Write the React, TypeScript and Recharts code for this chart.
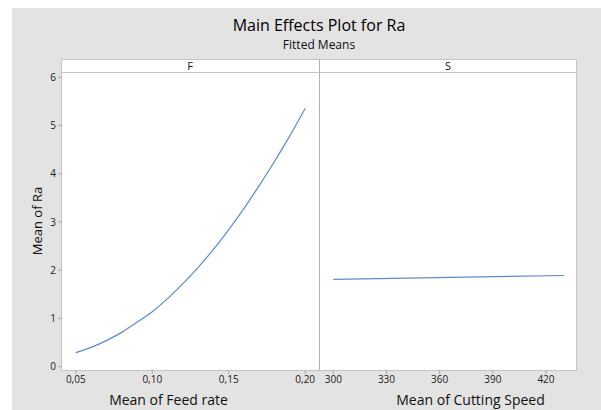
import { LineChart, Line, XAxis, YAxis } from 'recharts'

const feedRate = [0.05, 0.06, 0.07, 0.08, 0.09, 0.1, 0.11, 0.12, 0.13, 0.14, 0.15, 0.16, 0.17, 0.18, 0.19, 0.2]
const raByFeed = [0.29, 0.4, 0.54, 0.71, 0.92, 1.14, 1.41, 1.72, 2.06, 2.43, 2.84, 3.28, 3.76, 4.26, 4.79, 5.36]

const cuttingSpeed = [300, 430]
const raBySpeed = [1.81, 1.89]

const feedTicks = [0.05, 0.1, 0.15, 0.2]
const speedTicks = [300, 330, 360, 390, 420]
const raTicks = [0, 1, 2, 3, 4, 5, 6]

const FONT = '"Open Sans", "Noto Sans", sans-serif'
const LINE = '#5a8ccc'
const BORDER = '#c4c4c4'
const TICK = { fontSize: 10, fill: '#1a1a1a', fontFamily: FONT }

const feedData = feedRate.map((f, i) => ({ f, ra: raByFeed[i] }))
const speedData = cuttingSpeed.map((s, i) => ({ s, ra: raBySpeed[i] }))

const raDomain: [number, number] = [-0.07, 6.11]

function comma(v: number) {
  return v.toFixed(2).replace('.', ',')
}

export default function App() {
  return (
    <div style={{ position: 'absolute', left: 0, top: 0, width: 601, height: 410, background: '#fff', fontFamily: FONT, overflow: 'hidden' }}>
      <div style={{ position: 'absolute', left: 12, top: 8, right: 0, bottom: 0, background: '#e3e3e3' }} />

      {/* titles */}
      <div style={{ position: 'absolute', left: 119, width: 400, top: 16, textAlign: 'center', fontSize: 16, color: '#000', lineHeight: '18px' }}>
        Main Effects Plot for Ra
      </div>
      <div style={{ position: 'absolute', left: 119, width: 400, top: 38, textAlign: 'center', fontSize: 12, color: '#111', lineHeight: '13px' }}>
        Fitted Means
      </div>

      {/* panel frame + strips */}
      <div style={{ position: 'absolute', left: 61, top: 59, width: 516, height: 312, background: '#fff', border: `1px solid ${BORDER}`, boxSizing: 'border-box' }} />
      <div style={{ position: 'absolute', left: 61, top: 72, width: 516, height: 1, background: BORDER }} />
      <div style={{ position: 'absolute', left: 319, top: 59, width: 1, height: 312, background: '#b4b4b4' }} />
      <div style={{ position: 'absolute', left: 61, width: 258, top: 59, height: 13, lineHeight: '13px', textAlign: 'center', fontSize: 11, color: '#111' }}>F</div>
      <div style={{ position: 'absolute', left: 319, width: 258, top: 59, height: 13, lineHeight: '13px', textAlign: 'center', fontSize: 11, color: '#111' }}>S</div>

      <div style={{ position: 'absolute', left: 0, top: 0 }}>
        <LineChart width={320} height={410} data={feedData} margin={{ top: 72, right: 1, bottom: 0, left: 0 }}>
          <XAxis
            dataKey="f"
            type="number"
            domain={[0.041, 0.209]}
            ticks={feedTicks}
            tickFormatter={comma}
            allowDataOverflow
            height={40}
            axisLine={false}
            tickSize={4}
            tickMargin={2}
            tickLine={{ stroke: '#aaa' }}
            tick={TICK}
            label={{ value: 'Mean of Feed rate', position: 'center', dx: -22, dy: 10, fontSize: 14, fill: '#111', fontFamily: FONT }}
          />
          <YAxis
            type="number"
            domain={raDomain}
            ticks={raTicks}
            allowDataOverflow
            width={62}
            axisLine={false}
            tickSize={4}
            tickMargin={2}
            tickLine={{ stroke: '#aaa' }}
            tick={TICK}
            label={{ value: 'Mean of Ra', angle: -90, position: 'center', dx: 6, fontSize: 13, fill: '#111', fontFamily: FONT }}
          />
          <Line type="monotone" dataKey="ra" stroke={LINE} strokeWidth={1.2} dot={false} isAnimationActive={false} />
        </LineChart>
      </div>

      <div style={{ position: 'absolute', left: 320, top: 0 }}>
        <LineChart width={257} height={410} data={speedData} margin={{ top: 72, right: 0, bottom: 0, left: 0 }}>
          <XAxis
            dataKey="s"
            type="number"
            domain={[292.5, 437.5]}
            ticks={speedTicks}
            allowDataOverflow
            height={40}
            axisLine={false}
            tickSize={4}
            tickMargin={2}
            tickLine={{ stroke: '#aaa' }}
            tick={TICK}
            label={{ value: 'Mean of Cutting Speed', position: 'center', dx: 22, dy: 10, fontSize: 14, fill: '#111', fontFamily: FONT }}
          />
          <YAxis hide type="number" domain={raDomain} allowDataOverflow />
          <Line type="linear" dataKey="ra" stroke={LINE} strokeWidth={1.2} dot={false} isAnimationActive={false} />
        </LineChart>
      </div>
    </div>
  )
}
